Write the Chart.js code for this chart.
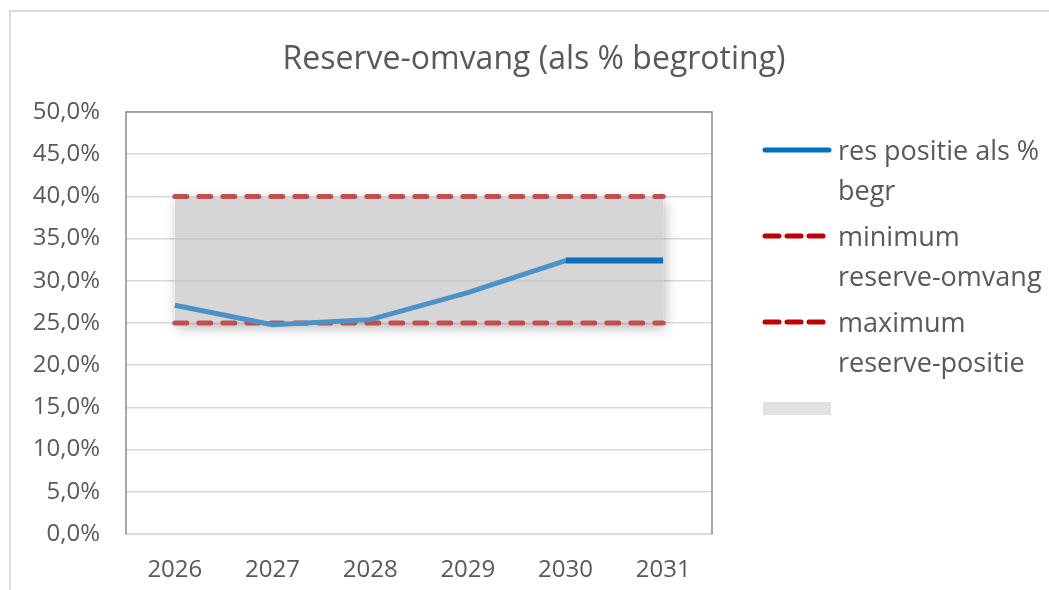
<!DOCTYPE html>
<html>
<head>
<meta charset="utf-8">
<script src="https://cdn.jsdelivr.net/npm/chart.js@4.4.1/dist/chart.umd.min.js"></script>
<style>
  html, body { margin: 0; padding: 0; background: #fff; }
  #wrap { position: relative; width: 1049px; height: 590px; overflow: hidden; font-family: "Open Sans", sans-serif; }
  #frame { position: absolute; left: 9px; top: 10px; width: 1100px; height: 700px; border-top: 2px solid #d9d9d9; border-left: 2px solid #d9d9d9; }
  #chart { position: absolute; left: 0; top: 0; }
  #title { position: absolute; left: 234px; width: 600px; top: 36px; text-align: center; color: #595959; font-size: 32px; line-height: 42px; }
  .legend { position: absolute; left: 762px; top: 130px; color: #595959; font-size: 27px; line-height: 40px; white-space: nowrap; }
  .item { position: relative; padding-left: 76px; margin-bottom: 6px; }
  .item svg { position: absolute; left: 0; top: 16px; }
</style>
</head>
<body>
<div id="wrap">
  <div id="frame"></div>
  <canvas id="chart" width="1049" height="590"></canvas>
  <div id="title">Reserve-omvang (als % begroting)</div>
  <div class="legend" id="legend"></div>
</div>
<script>
const years = ["2026", "2027", "2028", "2029", "2030", "2031"];
const resPositie = [27.1, 24.8, 25.4, 28.6, 32.4, 32.4];
const minimumOmvang = [25, 25, 25, 25, 25, 25];
const maximumPositie = [40, 40, 40, 40, 40, 40];
const yTicks = [0, 5, 10, 15, 20, 25, 30, 35, 40, 45, 50];

const textColor = "#595959";
const pct = v => v.toFixed(1).replace(".", ",") + "%";

const chartFrame = {
  id: "chartFrame",
  beforeDatasetsDraw(chart) {
    const { ctx, chartArea: a, scales } = chart;
    ctx.save();
    ctx.strokeStyle = "#8c8c8c";
    ctx.lineWidth = 1.5;
    ctx.beginPath();
    ctx.moveTo(a.left, a.bottom);
    ctx.lineTo(a.left, a.top);
    ctx.lineTo(a.right, a.top);
    ctx.lineTo(a.right, a.bottom);
    ctx.stroke();
    ctx.restore();

    // soft shadow around the band, only outside of it
    const x0 = scales.x.getPixelForValue(0);
    const x1 = scales.x.getPixelForValue(years.length - 1);
    const yTop = scales.y.getPixelForValue(maximumPositie[0]);
    const yBot = scales.y.getPixelForValue(minimumOmvang[0]);
    ctx.save();
    ctx.beginPath();
    ctx.rect(0, 0, chart.width, chart.height);
    ctx.rect(x0, yTop, x1 - x0, yBot - yTop);
    ctx.clip("evenodd");
    ctx.shadowColor = "rgba(0,0,0,0.28)";
    ctx.shadowBlur = 12;
    ctx.shadowOffsetX = 2;
    ctx.shadowOffsetY = 5;
    ctx.fillStyle = "#fff";
    ctx.fillRect(x0, yTop, x1 - x0, yBot - yTop);
    ctx.restore();
  }
};

new Chart(document.getElementById("chart"), {
  type: "line",
  data: {
    labels: years,
    datasets: [
      {
        label: "res positie als % begr",
        data: resPositie,
        borderColor: "#4a92c8",
        borderWidth: 5,
        pointRadius: 0,
        segment: {
          borderColor: c => c.p0DataIndex >= 4 ? "#0a6fbf" : undefined,
          borderWidth: c => c.p0DataIndex >= 4 ? 6 : undefined
        }
      },
      {
        label: "minimum reserve-omvang",
        data: minimumOmvang,
        borderColor: "#c0504d",
        borderWidth: 5,
        borderDash: [12, 12],
        borderCapStyle: "round",
        pointRadius: 0
      },
      {
        label: "maximum reserve-positie",
        data: maximumPositie,
        borderColor: "#c0504d",
        borderWidth: 5,
        borderDash: [12, 12],
        borderCapStyle: "round",
        pointRadius: 0
      },
      {
        label: "",
        data: maximumPositie,
        borderWidth: 0,
        pointRadius: 0,
        backgroundColor: "rgba(190,190,190,0.63)",
        fill: 1
      }
    ]
  },
  options: {
    responsive: false,
    animation: false,
    layout: { padding: { left: 0, right: 337, top: 112, bottom: 0 } },
    plugins: {
      legend: { display: false },
      tooltip: { enabled: false }
    },
    scales: {
      x: {
        offset: true,
        grid: { display: false, drawTicks: false },
        border: { color: "#d9d9d9", width: 2 },
        ticks: { color: textColor, font: { family: "Open Sans", size: 24 }, padding: 22 },
        afterFit: s => { s.height = 56; }
      },
      y: {
        min: 0,
        max: 50,
        afterBuildTicks: s => { s.ticks = yTicks.map(v => ({ value: v })); },
        grid: { color: "#d9d9d9", lineWidth: 1.5, drawTicks: false },
        border: { display: false },
        ticks: { color: textColor, font: { family: "Open Sans", size: 24 }, padding: 26, callback: v => pct(v) },
        afterFit: s => { s.width = 126; }
      }
    }
  },
  plugins: [chartFrame]
});

// legend, built from the same labels
const legendItems = [
  { lines: ["res positie als %", "begr"], svg: '<line x1="3" y1="4" x2="67" y2="4" stroke="#0070c0" stroke-width="5" stroke-linecap="round"/>' },
  { lines: ["minimum", "reserve-omvang"], svg: '<line x1="3" y1="4" x2="67" y2="4" stroke="#c00000" stroke-width="5" stroke-linecap="round" stroke-dasharray="14 8"/>' },
  { lines: ["maximum", "reserve-positie"], svg: '<line x1="3" y1="4" x2="67" y2="4" stroke="#c00000" stroke-width="5" stroke-linecap="round" stroke-dasharray="14 8"/>' },
  { lines: [""], svg: '<rect x="1" y="-2" width="68" height="13" fill="#e2e2e2"/>' }
];
document.getElementById("legend").innerHTML = legendItems.map(it =>
  '<div class="item"><svg width="72" height="12" overflow="visible">' + it.svg + '</svg>' +
  (it.lines.join("<br>") || "&nbsp;") + '</div>'
).join("");
</script>
</body>
</html>
